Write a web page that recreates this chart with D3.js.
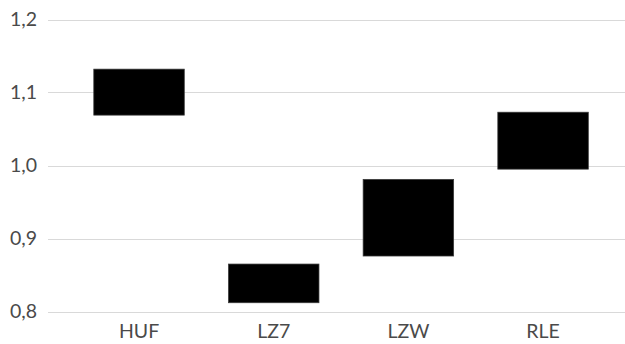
<!DOCTYPE html>
<html>
<head>
<meta charset="utf-8">
<script src="https://cdn.jsdelivr.net/npm/d3@7"></script>
<style>
  html, body { margin: 0; padding: 0; background: #fff; }
  svg { display: block; }
</style>
</head>
<body>
<svg id="chart" width="625" height="344"></svg>
<script>
// Floating range bars: each category spans from a low to a high value
const categories = ["HUF", "LZ7", "LZW", "RLE"];
const lowValues  = [1.069, 0.812, 0.876, 0.995];
const highValues = [1.132, 0.865, 0.981, 1.073];
const yTicks = [0.8, 0.9, 1.0, 1.1, 1.2];

const svg = d3.select("#chart");
const gridLeft = 48, gridRight = 625;

const x = d3.scaleBand()
  .domain(categories)
  .range([71.7, 610.4])
  .paddingInner(0.328)
  .paddingOuter(0.164);

const y = d3.scaleLinear()
  .domain([0.8, 1.2])
  .range([311.5, 19.5]);

const fmt = v => d3.format(".1f")(v).replace(".", ",");
const font = "Lato, 'Open Sans', sans-serif";

// horizontal gridlines
svg.append("g")
  .selectAll("line")
  .data(yTicks)
  .join("line")
  .attr("x1", gridLeft)
  .attr("x2", gridRight)
  .attr("y1", d => Math.round(y(d)) + 0.5)
  .attr("y2", d => Math.round(y(d)) + 0.5)
  .attr("stroke", "#d9d9d9")
  .attr("stroke-width", 1.2);

// y-axis labels
const yAxis = d3.axisLeft(y).tickValues(yTicks).tickFormat(fmt).tickSize(0).tickPadding(0);
const gy = svg.append("g").attr("transform", "translate(37,0)").call(yAxis);
gy.select(".domain").remove();
gy.selectAll("text")
  .attr("fill", "#4a4a4a")
  .style("font-family", font)
  .style("font-size", "19.5px");

// category labels
const xAxis = d3.axisBottom(x).tickSize(0).tickPadding(0);
const gx = svg.append("g").attr("transform", "translate(0,324)").call(xAxis);
gx.select(".domain").remove();
gx.selectAll("text")
  .attr("fill", "#4a4a4a")
  .style("font-family", font)
  .style("font-size", "19.5px");

// range bars
svg.append("g")
  .selectAll("rect")
  .data(categories.map((c, i) => ({ c, lo: lowValues[i], hi: highValues[i] })))
  .join("rect")
  .attr("x", d => x(d.c))
  .attr("width", x.bandwidth())
  .attr("y", d => y(d.hi))
  .attr("height", d => y(d.lo) - y(d.hi))
  .attr("fill", "#000")
  .attr("stroke", "#3a3a3a")
  .attr("stroke-width", 0.75);
</script>
</body>
</html>
